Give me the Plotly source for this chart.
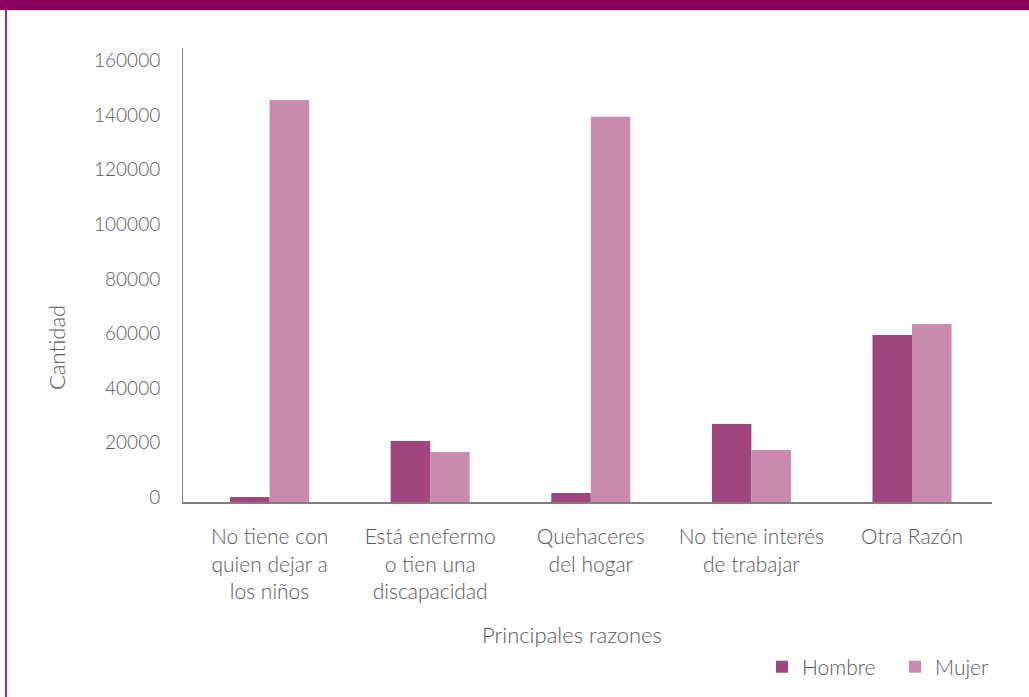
import plotly.graph_objects as go

categories = [
    "No tiene con<br>quien dejar a<br>los niños",
    "Está enefermo<br>o tien una<br>discapacidad",
    "Quehaceres<br>del hogar",
    "No tiene interés<br>de trabajar",
    "Otra Razón",
]
hombre = [1800, 22400, 3300, 28600, 61200]
mujer = [147400, 18300, 141300, 19100, 65300]
y_ticks = [0, 20000, 40000, 60000, 80000, 100000, 120000, 140000, 160000]

W, H = 1029, 697
L, R, T, B = 183, 992, 48, 502
pw, ph = R - L, B - T

def px(x):
    return (x - L) / pw

def py(y):
    return (B - y) / ph

FONT = "Lato"
GREY = "#595959"
WT = 300

xs = list(range(len(categories)))

fig = go.Figure()
fig.add_trace(go.Bar(x=xs, y=hombre, name="Hombre", marker_color="#A0457E",
                     marker_line_width=0))
fig.add_trace(go.Bar(x=xs, y=mujer, name="Mujer", marker_color="#C88BAD",
                     marker_line_width=0))

fnt = dict(size=21, color=GREY, family=FONT, weight=WT)
tfnt = dict(size=22, color=GREY, family=FONT, weight=WT)
nfnt = dict(size=19, color=GREY, family=FONT, weight=WT)

fig.update_layout(
    width=W, height=H, autosize=False,
    margin=dict(l=L, r=W - R, t=T, b=H - B, pad=0, autoexpand=False),
    paper_bgcolor="white", plot_bgcolor="white",
    barmode="group", bargap=0.508, bargroupgap=0,
    font=fnt,
    showlegend=True,
    legend=dict(orientation="h", x=px(762), y=py(667), xanchor="left", yanchor="middle",
                font=fnt, itemwidth=30, entrywidth=88, traceorder="normal",
                bgcolor="rgba(0,0,0,0)"),
    xaxis=dict(
        tickmode="array", tickvals=xs, ticktext=categories,
        range=[-0.539, 4.498], showgrid=False, zeroline=False,
        showline=True, linecolor="#7f7f7f", linewidth=2,
        ticks="", tickfont=fnt, ticklabelstandoff=15,
    ),
    yaxis=dict(
        range=[0, 166500], tickmode="array", tickvals=y_ticks,
        ticktext=[str(v) for v in y_ticks],
        showgrid=False, zeroline=False, showline=True,
        linecolor="#7f7f7f", linewidth=1, ticks="",
        tickfont=nfnt, ticklabelstandoff=18, ticklabelshift=-5,
    ),
    shapes=[
        dict(type="rect", xref="paper", yref="paper",
             x0=px(0), x1=px(W), y0=py(10), y1=py(0),
             fillcolor="#8B005F", line_width=0, layer="above"),
        dict(type="line", xref="paper", yref="paper",
             x0=px(6), x1=px(6), y0=py(10), y1=py(H),
             line=dict(color="#A0288C", width=2)),
    ],
    annotations=[
        dict(text="Principales razones", xref="paper", yref="paper",
             x=px(572), y=py(634), showarrow=False, xanchor="center", yanchor="middle",
             font=tfnt),
        dict(text="Cantidad", xref="paper", yref="paper",
             x=px(56), y=py(348), showarrow=False, textangle=-90,
             xanchor="center", yanchor="middle", font=tfnt),
    ],
)

fig.write_html("out.html",
               config={"responsive": False, "displayModeBar": False},
               post_script="document.body.style.margin='0';document.body.style.padding='0';document.body.style.overflow='hidden';")
